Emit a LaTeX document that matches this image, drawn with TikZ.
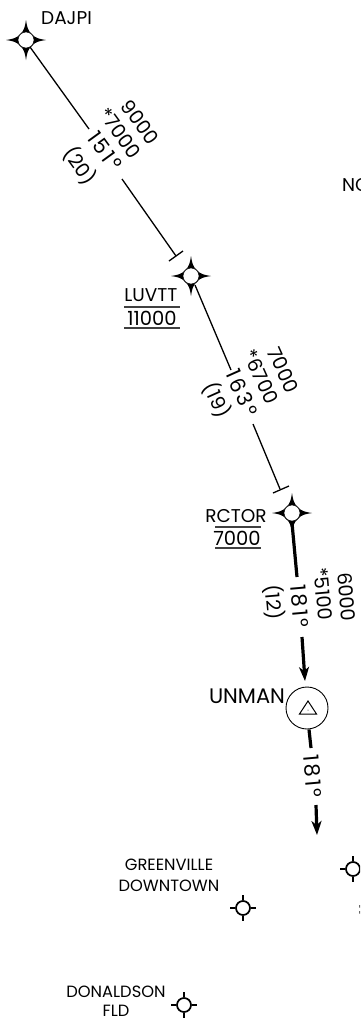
\documentclass[tikz,border=0pt]{standalone}
\usepackage{fontspec}
\setmainfont{Poppins}
\usetikzlibrary{arrows.meta}
\tikzset{
  x=1pt,y=-1pt,
  lbl/.style={inner sep=0pt,font=\fontsize{18.5}{18.5}\selectfont,text=black},
  num/.style={inner sep=0pt,font=\fontsize{19.5}{19.5}\selectfont,text=black},
  brg/.style={inner sep=0pt,font=\fontsize{21}{21}\selectfont\addfontfeature{LetterSpace=12},text=black},
  small/.style={inner sep=0pt,font=\fontsize{16.3}{16.3}\selectfont,text=black},
  leg/.style={line width=1.3pt,black},
  legthick/.style={line width=3.2pt,black},
  rule/.style={line width=1.1pt,black!75},
  fixdot/.style={circle,minimum size=16pt,inner sep=0pt,fill=white,draw=black,line width=0.5pt},
  apt/.style={circle,draw=black,line width=1.7pt,minimum size=14pt,inner sep=0pt,fill=white},
  head/.style={-{Stealth[length=14pt,width=10pt,inset=4pt]}},
}
\newcommand{\fixmark}[2]{%
  \fill[black] (#1,#2-20) .. controls (#1+1,#2-13) and (#1+2,#2-9) .. (#1+6,#2-6)
     .. controls (#1+9,#2-2) and (#1+13,#2-1) .. (#1+20,#2)
     .. controls (#1+13,#2+1) and (#1+9,#2+2) .. (#1+6,#2+6)
     .. controls (#1+2,#2+9) and (#1+1,#2+13) .. (#1,#2+20)
     .. controls (#1-1,#2+13) and (#1-2,#2+9) .. (#1-6,#2+6)
     .. controls (#1-9,#2+2) and (#1-13,#2+1) .. (#1-20,#2)
     .. controls (#1-13,#2-1) and (#1-9,#2-2) .. (#1-6,#2-6)
     .. controls (#1-2,#2-9) and (#1-1,#2-13) .. (#1,#2-20) -- cycle;
}
\newcommand{\airport}[3]{%
  \node[apt] (#1) at (#2,#3) {};
  \draw[line width=1.7pt] (#1.north) -- ++(0,-5) (#1.south) -- ++(0,5) (#1.east) -- ++(5,0) (#1.west) -- ++(-5,0);
}
\begin{document}
\begin{tikzpicture}
\useasboundingbox (0,0) rectangle (360,1018);
\clip (0,0) rectangle (360,1018);
\fill[white] (0,0) rectangle (360,1018);

% fixes
\fixmark{26}{40}\node[fixdot] (dajpi) at (26,40) {};
\fixmark{191}{276}\node[fixdot] (luvtt) at (191,276) {};
\fixmark{292}{513}\node[fixdot] (rctor) at (292,513) {};

\node[lbl,anchor=west] (dajpiL) at (41,18) {DAJPI};
\node[lbl] (luvttL) at (151,295) {LUVTT};
\node[num] (luvttA) at (152,318) {11000};
\draw[rule] (124,307) -- (180,307) (124,328) -- (180,328);
\node[lbl] (rctorL) at (236,516) {RCTOR};
\node[num] (rctorA) at (237,538) {7000};
\draw[rule] (215,527) -- (261,527) (215,548) -- (261,548);
\node[lbl,font=\fontsize{21}{21}\selectfont] (unmanL) at (247,696) {UNMAN};
\node[lbl,anchor=west] (noL) at (342,185) {NO};

% leg 1
\coordinate (a1) at (30,47);\coordinate (a2) at (89,129);
\coordinate (a3) at (122,179);\coordinate (a4) at (176,256);
\draw[leg] (a1) -- (a2) (a3) -- (a4);
\draw[leg] (169,261) -- (183,251);
\node[num,rotate=-54] (t1a) at (140,122) {9000};
\node[num,rotate=-54] (t1b) at (120,133) {*7000};
\node[brg,rotate=-54] (t1c) at (105,151) {151°};
\node[num,rotate=-54] (t1d) at (80,166) {(20)};

% leg 2
\coordinate (b1) at (195,285);\coordinate (b2) at (231,370);
\coordinate (b3) at (253,424);\coordinate (b4) at (280,489);
\draw[leg] (b1) -- (b2) (b3) -- (b4);
\draw[leg] (273,493) -- (289,486);
\node[num,rotate=-66] (t2a) at (283,370) {7000};
\node[num,rotate=-66] (t2b) at (261,377) {*6700};
\node[brg,rotate=-66] (t2c) at (242,393) {163°};
\node[num,rotate=-66] (t2d) at (217,400) {(19)};

% leg 3
\coordinate (c1) at (292,523);\coordinate (c2) at (297,577);
\coordinate (c3) at (302,637);\coordinate (c4) at (305,681);
\draw[legthick] (c1) -- (c2);
\draw[legthick,head] (c3) -- (c4);
\node[num,rotate=-85] (t3a) at (347,597) {6000};
\node[num,rotate=-85] (t3b) at (323,594) {*5100};
\node[brg,rotate=-85] (t3c) at (300,606) {181°};
\node[num,rotate=-85] (t3d) at (274,602) {(12)};

% UNMAN
\node[circle,draw=black,line width=0.9pt,minimum size=42pt,inner sep=0pt] (unman) at (307,708) {};
\draw[black,line width=1pt] (308,701) -- (316.5,714) -- (299.5,714) -- cycle;
\fill[black] (308,710) circle (0.5);

% outbound
\coordinate (d2) at (311,748);\coordinate (d3) at (316,805);\coordinate (d4) at (317,835);
\draw[legthick] (unman.south) ++(2,0) -- (d2);
\draw[legthick,head] (d3) -- (d4);
\node[brg,rotate=-85] (t4) at (313,776) {181°};

% airports
\airport{ap1}{243}{908}
\airport{ap2}{184}{1005}
\airport{ap3}{353}{869}
\node[small] (g1) at (169,865) {GREENVILLE};
\node[small] (g2) at (169,886) {DOWNTOWN};
\node[small] (d1) at (116,992) {DONALDSON};
\node[small] (d5) at (116,1011) {FLD};
\fill[black!60] (359,905) rectangle (360,907.5) (359,911) rectangle (360,913.5);
\end{tikzpicture}
\end{document}
